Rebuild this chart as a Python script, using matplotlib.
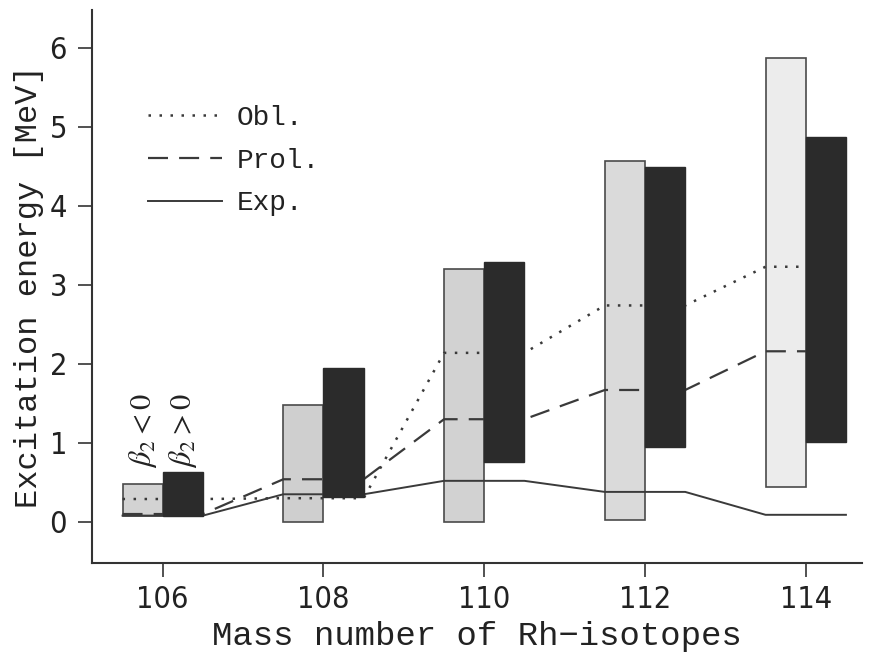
import numpy as np
import matplotlib
matplotlib.use("Agg")
import matplotlib.pyplot as plt

# ---- data ----
mass = np.array([106, 108, 110, 112, 114])
obl_bottom = [0.08, 0.0, 0.0, 0.03, 0.44]     # beta2 < 0 band
obl_top    = [0.48, 1.48, 3.20, 4.57, 5.87]
prol_bottom = [0.08, 0.31, 0.76, 0.95, 1.01]  # beta2 > 0 band
prol_top    = [0.63, 1.95, 3.29, 4.49, 4.87]
obl_line  = [0.29, 0.30, 2.14, 2.74, 3.23]
prol_line = [0.10, 0.54, 1.30, 1.67, 2.16]
exp_line  = [0.08, 0.35, 0.52, 0.38, 0.09]
xticks = [106, 108, 110, 112, 114]
yticks = [0, 1, 2, 3, 4, 5, 6]
light_colors = ['#d3d3d3', '#cfcfcf', '#d2d2d2', '#dadada', '#ececec']

mono = ['Liberation Mono', 'DejaVu Sans Mono']
plt.rcParams['mathtext.fontset'] = 'stix'

fig = plt.figure(figsize=(8.82, 6.56), dpi=100)
ax = fig.add_axes([92/882, 1-563/656, 770/882, 553/656])

w = 0.5
ax.bar(mass - 0.25, np.array(obl_top) - np.array(obl_bottom), bottom=obl_bottom,
       width=w, color=light_colors, edgecolor='#4a4a4a', linewidth=1.2, zorder=1)
ax.bar(mass + 0.25, np.array(prol_top) - np.array(prol_bottom), bottom=prol_bottom,
       width=w, color='#2b2b2b', edgecolor='#2b2b2b', linewidth=1.0, zorder=3)

def steps(vals):
    xs = np.column_stack([mass - 0.5, mass + 0.5]).ravel()
    ys = np.repeat(vals, 2)
    return xs, ys

lc = '#3a3a3a'
x, y = steps(obl_line)
l1, = ax.plot(x, y, color=lc, lw=1.8, linestyle=(0, (1, 3.4)), zorder=2, label='Obl.')
x, y = steps(prol_line)
l2, = ax.plot(x, y, color=lc, lw=1.6, linestyle=(0, (9, 5)), zorder=2, label='Prol.')
x, y = steps(exp_line)
l3, = ax.plot(x, y, color=lc, lw=1.4, linestyle='-', zorder=2, label='Exp.')

leg = ax.legend(handles=[l1, l2, l3], loc='upper left',
                bbox_to_anchor=(0.0727, 0.828), frameon=False,
                prop={'family': mono, 'size': 20}, handlelength=2.65,
                handletextpad=0.55, labelspacing=0.6, borderpad=0, borderaxespad=0)
for t in leg.get_texts():
    t.set_color('#222222')

ax.text(105.75, 0.68, r'$\beta_2<0$', rotation=90, ha='center', va='bottom',
        fontsize=22, color='#222222')
ax.text(106.25, 0.68, r'$\beta_2>0$', rotation=90, ha='center', va='bottom',
        fontsize=22, color='#222222')

ax.set_xlim(105.12, 114.7)
ax.set_ylim(-0.52, 6.48)
ax.set_xticks(xticks)
ax.set_yticks(yticks)
ax.set_xticklabels([str(v) for v in xticks])
ax.set_yticklabels([str(v) for v in yticks])
for lab in ax.get_xticklabels() + ax.get_yticklabels():
    lab.set_fontfamily('DejaVu Sans')
    lab.set_fontstretch('condensed')
    lab.set_fontsize(22)
    lab.set_color('#222222')
ax.tick_params(axis='both', direction='out', length=10, width=1.2, color='#333333')
ax.tick_params(axis='y', pad=8)
ax.tick_params(axis='x', pad=6)

for s in ['top', 'right']:
    ax.spines[s].set_visible(False)
for s in ['left', 'bottom']:
    ax.spines[s].set_linewidth(1.5)
    ax.spines[s].set_color('#333333')

ax.set_xlabel('Mass number of Rh\u2212isotopes', fontfamily=mono, fontsize=24.5,
              color='#222222', labelpad=5)
ax.set_ylabel('Excitation energy [MeV]', fontfamily=mono, fontsize=23,
              color='#222222', labelpad=4)

fig.savefig('out.png', dpi=100)
